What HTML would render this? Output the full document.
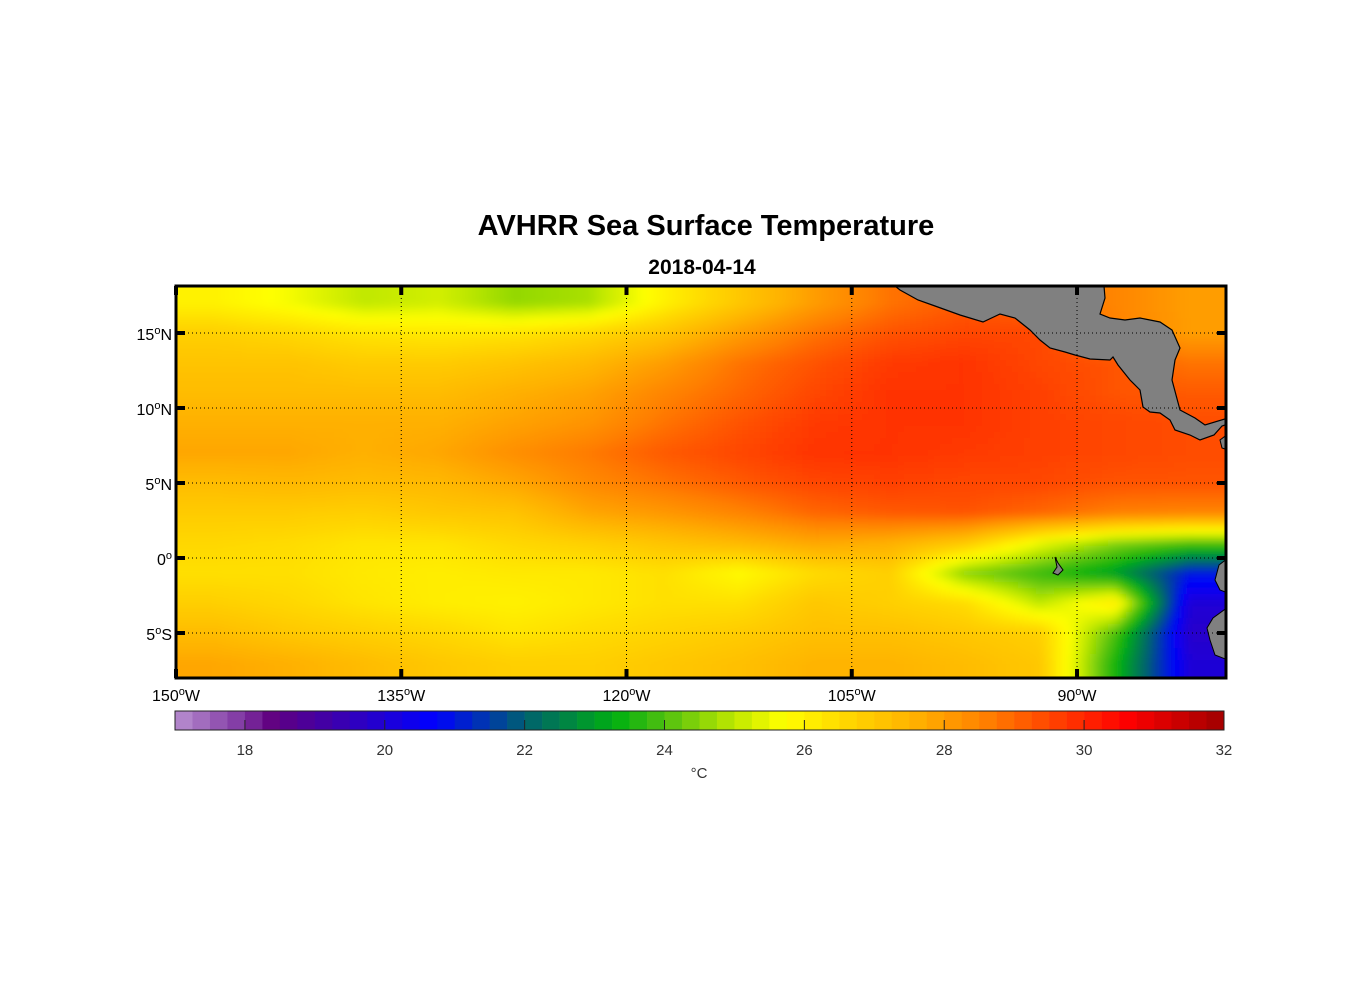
<!DOCTYPE html>
<html><head><meta charset="utf-8"><style>
html,body{margin:0;padding:0;background:#fff;}
body{width:1356px;height:1000px;overflow:hidden;font-family:"Liberation Sans",Arial,sans-serif;}
</style></head><body>
<svg id="chart" width="1356" height="1000" xmlns="http://www.w3.org/2000/svg" font-family="Liberation Sans, Arial, sans-serif">
<defs>
<clipPath id="mapclip"><rect x="176" y="286" width="1050" height="392"/></clipPath>
<filter id="smooth" x="-2%" y="-5%" width="104%" height="110%">
<feGaussianBlur stdDeviation="4"/>
<feComponentTransfer><feFuncA type="table" tableValues="1 1"/></feComponentTransfer>
</filter>
</defs>
<text x="706" y="235" text-anchor="middle" font-size="29" font-weight="bold">AVHRR Sea Surface Temperature</text>
<text x="702" y="274" text-anchor="middle" font-size="21" font-weight="bold">2018-04-14</text>
<g id="heat" clip-path="url(#mapclip)"><g id="cells" filter="url(#smooth)"></g></g>
<g id="land" clip-path="url(#mapclip)">
<polygon fill="#808080" stroke="#000" stroke-width="1.2" points="895,286 900,290 918,300 935,306 960,315 983,322 1000,314 1015,318 1030,330 1040,340 1050,348 1065,352 1075,355 1090,359 1110,360 1113,357 1118,365 1130,380 1140,390 1143,407 1150,412 1160,413 1170,420 1175,430 1190,435 1200,440 1214,435 1222,426 1228,424 1228,418 1205,425 1195,418 1180,410 1176,395 1172,380 1175,360 1180,348 1172,330 1160,322 1140,318 1125,320 1110,318 1100,314 1105,298 1104,286"/>
<polygon fill="#808080" stroke="#000" stroke-width="1" points="1228,434 1220,440 1222,448 1228,450"/>
<polygon fill="#808080" stroke="#000" stroke-width="1" points="1228,558 1219,565 1215,580 1220,590 1228,593"/>
<polygon fill="#808080" stroke="#000" stroke-width="1" points="1228,607 1213,618 1207,628 1210,640 1215,655 1228,660"/>
<polygon fill="#808080" stroke="#000" stroke-width="1" points="1055,557 1058,563 1063,570 1058,575 1053,573 1057,567"/>
</g>
<g id="grid"></g>
<rect x="176" y="286" width="1050" height="392" fill="none" stroke="#000" stroke-width="3"/>
<g id="ticks"></g>
<g id="cbar"></g>
<text x="699" y="778" text-anchor="middle" font-size="15" fill="#333">°C</text>
</svg>
<script>
// SST grid: rows lat centers 17..-7 (2° step), cols lon centers 147.5W..82.5W (5° step)
const lats = [17,15,13,11,9,7,5,3,1,-1,-3,-5,-7];
const lons = [147.5,142.5,137.5,132.5,127.5,122.5,117.5,112.5,107.5,102.5,97.5,92.5,87.5,82.5];
const sst = [
[26.0,25.6,25.0,25.2,24.6,24.8,26.0,27.0,28.0,28.8,29.2,29.0,28.5,28.0],
[26.8,26.6,26.3,26.2,26.3,26.6,27.1,28.0,28.8,29.3,29.5,29.5,28.6,28.0],
[27.1,27.1,26.9,26.9,27.1,27.4,28.0,28.8,29.3,29.7,29.8,29.5,29.3,28.8],
[27.3,27.3,27.3,27.3,27.6,27.9,28.5,29.0,29.5,29.8,29.8,29.6,29.3,29.2],
[27.6,27.6,27.6,27.6,27.9,28.2,28.8,29.3,29.7,29.8,29.8,29.6,29.5,29.4],
[27.8,27.8,27.6,27.8,28.3,28.7,29.2,29.5,29.8,29.8,29.7,29.6,29.5,29.4],
[27.3,27.4,27.3,27.4,27.8,28.4,28.8,29.2,29.5,29.6,29.5,29.5,29.3,29.3],
[26.9,26.9,26.8,27.0,27.1,27.8,28.1,28.5,29.0,29.2,29.3,29.0,28.6,28.5],
[26.6,26.5,26.3,26.3,26.6,26.8,27.1,27.4,27.8,27.6,27.0,25.5,24.5,24.0],
[26.4,26.4,26.2,26.1,26.2,26.2,26.4,25.8,26.5,26.8,24.5,23.8,23.0,21.0],
[26.8,26.6,26.3,26.1,26.0,26.2,26.4,26.4,27.0,26.8,26.5,25.0,26.2,20.0],
[27.3,27.0,26.8,26.6,26.3,26.5,26.7,26.9,27.2,27.2,27.0,26.8,24.0,19.8],
[27.8,27.6,27.3,27.0,26.8,26.8,27.0,27.2,27.5,27.5,27.3,27.0,23.5,20.0]
];
const cbTicks = [18,20,22,24,26,28,30,32];
const lonTicks = [150,135,120,105,90];
const latTicks = [15,10,5,0,-5];

const NS="http://www.w3.org/2000/svg";
const xOf = lon => 176 + (150 - lon) * 15.017;
const yOf = lat => 558 - lat * 15;
const lonOfX = x => 150 - (x - 176) / 15.017;
const latOfY = y => (558 - y) / 15;
const cbX = v => 175 + (v - 17) * 69.93;
const stops = [[17,[184,144,208]],[18,[125,50,160]],[18.4,[96,0,128]],[19.2,[64,0,168]],[20.7,[0,0,255]],[22,[0,96,112]],[23.3,[0,176,16]],[24,[80,192,16]],[25,[192,232,0]],[25.7,[255,255,0]],[26.6,[255,215,0]],[27.6,[255,176,0]],[28.6,[255,128,0]],[29.6,[255,64,0]],[30.6,[255,0,0]],[32,[160,0,0]]];
function cmap(v){
  if(v<=stops[0][0]) return stops[0][1];
  for(let i=1;i<stops.length;i++){
    if(v<=stops[i][0]){const a=stops[i-1],b=stops[i];const t=(v-a[0])/(b[0]-a[0]);
      return a[1].map((c,k)=>Math.round(c+(b[1][k]-c)*t));}
  }
  return stops[stops.length-1][1];
}
const rgb=c=>`rgb(${c[0]},${c[1]},${c[2]})`;
function mk(tag,attrs,parent){const e=document.createElementNS(NS,tag);for(const k in attrs)e.setAttribute(k,attrs[k]);parent.appendChild(e);return e;}
// bilinear lookup of the grid at (lon,lat)
function sample(lon,lat){
  let fi=(lats[0]-lat)/2; fi=Math.max(0,Math.min(lats.length-1,fi));
  let fj=(lons[0]-lon)/5; fj=Math.max(0,Math.min(lons.length-1,fj));
  const i0=Math.floor(fi), j0=Math.floor(fj);
  const i1=Math.min(i0+1,lats.length-1), j1=Math.min(j0+1,lons.length-1);
  const ti=fi-i0, tj=fj-j0;
  const a=sst[i0][j0]*(1-tj)+sst[i0][j1]*tj;
  const b=sst[i1][j0]*(1-tj)+sst[i1][j1]*tj;
  return a*(1-ti)+b*ti;
}
const cells=document.getElementById('cells');
const STEP=6;
for(let y=276;y<690;y+=STEP){
  for(let x=166;x<1236;x+=STEP){
    const v=sample(lonOfX(x+STEP/2),latOfY(y+STEP/2));
    mk('rect',{x:x,y:y,width:STEP+0.5,height:STEP+0.5,fill:rgb(cmap(v))},cells);
  }
}

const grid=document.getElementById('grid'), ticks=document.getElementById('ticks');
lonTicks.forEach(l=>{
  const x=xOf(l);
  if(l!==150){const g=mk('line',{x1:x,y1:286,x2:x,y2:678,stroke:'#000','stroke-width':1,'stroke-dasharray':'1 3'},grid);
  
  }
  mk('line',{x1:x,y1:286,x2:x,y2:295,stroke:'#000','stroke-width':4},ticks);
  mk('line',{x1:x,y1:669,x2:x,y2:678,stroke:'#000','stroke-width':4},ticks);
  const t=mk('text',{x:x,y:701,'text-anchor':'middle','font-size':16},ticks);
  
  
  t.innerHTML=`${l}<tspan dy="-6" font-size="11">o</tspan><tspan dy="6">W</tspan>`;
});
latTicks.forEach(l=>{
  const y=yOf(l);
  const g=mk('line',{x1:176,y1:y,x2:1226,y2:y,stroke:'#000','stroke-width':1,'stroke-dasharray':'1 3'},grid);
  
  
  mk('line',{x1:176,y1:y,x2:185,y2:y,stroke:'#000','stroke-width':4},ticks);
  mk('line',{x1:1217,y1:y,x2:1226,y2:y,stroke:'#000','stroke-width':4},ticks);
  const t=mk('text',{x:172,y:y+7,'text-anchor':'end','font-size':16},ticks);
  
  
  const hemi=l>0?'N':(l<0?'S':'');
  t.innerHTML=`${Math.abs(l)}<tspan dy="-6" font-size="11">o</tspan><tspan dy="6">${hemi}</tspan>`;
});

const cb=document.getElementById('cbar');
for(let v=17;v<32;v+=0.25){
  const r=mk('rect',{x:cbX(v),y:711,width:cbX(v+0.25)-cbX(v)+0.3,height:19,fill:rgb(cmap(v+0.125))},cb);
  
  
}
mk('rect',{x:175,y:711,width:1049,height:19,fill:'none',stroke:'#222','stroke-width':1},cb);
cbTicks.forEach(v=>{
  const x=cbX(v);
  if(v<32) mk('line',{x1:x,y1:720,x2:x,y2:730,stroke:'#222','stroke-width':1},cb);
  const t=mk('text',{x:x,y:755,'text-anchor':'middle','font-size':15,fill:'#333'},cb);
  
  
  t.textContent=v;
});
</script>
</body></html>
